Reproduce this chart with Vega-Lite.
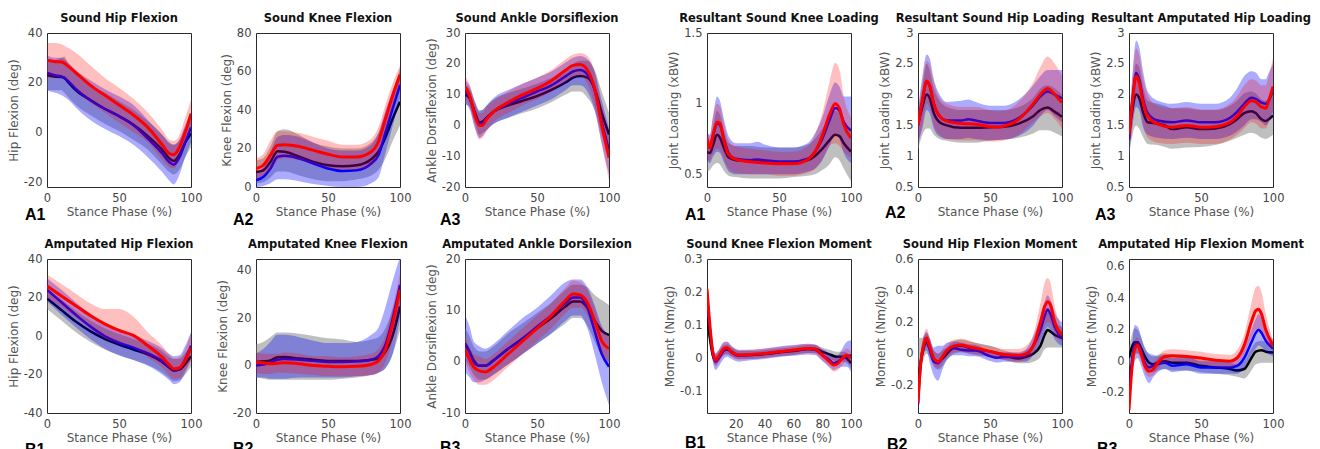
{
"$schema": "https://vega.github.io/schema/vega-lite/v6.json",
"background": "white",
"padding": {"left": 6, "top": 12, "right": 5, "bottom": 5},
"config": {
 "view": {"stroke": "#2b2b2b", "strokeWidth": 1},
 "axis": {"grid": false, "domain": false, "ticks": false, "labelOverlap": false, "labelFlush": false, "labelFont": "DejaVu Sans", "labelFontSize": 11.5, "labelColor": "#444444", "labelPadding": 5, "titleFont": "DejaVu Sans", "titleFontSize": 12, "titleFontWeight": "normal", "titleColor": "#555555", "titlePadding": 3},
 "text": {"font": "Liberation Sans", "fontSize": 16, "fontWeight": "bold", "color": "#000000", "align": "left", "baseline": "alphabetic"},
 "title": {"font": "DejaVu Sans", "fontSize": 11.5, "fontWeight": "bold", "color": "#111111", "offset": 3, "frame": "group"}
},
"datasets": {
"p1": [
{"s":"k","x":0,"y":23,"lo":17,"hi":29},{"s":"k","x":5,"y":22.5,"lo":17,"hi":29},{"s":"k","x":10,"y":22.3,"lo":17,"hi":30},{"s":"k","x":12,"y":22,"lo":16,"hi":30.5},{"s":"k","x":15,"y":20,"lo":14,"hi":27},{"s":"k","x":20,"y":17,"lo":11,"hi":24},{"s":"k","x":30,"y":13,"lo":7,"hi":19},{"s":"k","x":40,"y":9.5,"lo":3.5,"hi":16},{"s":"k","x":50,"y":6.5,"lo":0.5,"hi":12.5},{"s":"k","x":60,"y":3,"lo":-3,"hi":9},{"s":"k","x":70,"y":-1.5,"lo":-7,"hi":4.5},{"s":"k","x":80,"y":-7,"lo":-13,"hi":-1},{"s":"k","x":85,"y":-10.5,"lo":-16,"hi":-4.5},{"s":"k","x":88,"y":-11.5,"lo":-17,"hi":-5},{"s":"k","x":92,"y":-9,"lo":-15,"hi":-3},{"s":"k","x":96,"y":-4,"lo":-10,"hi":2},{"s":"k","x":100,"y":-0.5,"lo":-6,"hi":5},
{"s":"b","x":0,"y":24,"lo":17,"hi":31},{"s":"b","x":5,"y":23,"lo":16,"hi":30},{"s":"b","x":10,"y":22.5,"lo":15,"hi":30},{"s":"b","x":15,"y":20.5,"lo":13,"hi":28},{"s":"b","x":20,"y":17.5,"lo":10,"hi":25},{"s":"b","x":30,"y":13,"lo":5,"hi":21},{"s":"b","x":40,"y":9.5,"lo":1.5,"hi":17.5},{"s":"b","x":50,"y":6.5,"lo":-1.5,"hi":14.5},{"s":"b","x":60,"y":3,"lo":-5,"hi":11},{"s":"b","x":70,"y":-2.5,"lo":-10,"hi":5},{"s":"b","x":80,"y":-8.5,"lo":-16,"hi":-1},{"s":"b","x":85,"y":-12,"lo":-19.5,"hi":-4},{"s":"b","x":88,"y":-13,"lo":-21,"hi":-5},{"s":"b","x":92,"y":-10,"lo":-17,"hi":-3},{"s":"b","x":96,"y":-4,"lo":-10,"hi":3},{"s":"b","x":100,"y":2,"lo":-4,"hi":8},
{"s":"r","x":0,"y":29,"lo":22,"hi":36},{"s":"r","x":5,"y":28.5,"lo":22,"hi":36},{"s":"r","x":10,"y":28.3,"lo":22,"hi":35.5},{"s":"r","x":15,"y":26.5,"lo":20,"hi":34},{"s":"r","x":20,"y":24,"lo":17,"hi":32},{"s":"r","x":30,"y":19,"lo":12,"hi":27},{"s":"r","x":40,"y":15,"lo":8,"hi":22},{"s":"r","x":50,"y":11,"lo":4,"hi":18},{"s":"r","x":60,"y":7,"lo":0,"hi":13.5},{"s":"r","x":70,"y":2,"lo":-4,"hi":8},{"s":"r","x":80,"y":-5,"lo":-11,"hi":1},{"s":"r","x":85,"y":-8.5,"lo":-14,"hi":-3},{"s":"r","x":88,"y":-9,"lo":-14.5,"hi":-3.5},{"s":"r","x":92,"y":-6,"lo":-11,"hi":-1},{"s":"r","x":96,"y":0,"lo":-5,"hi":6},{"s":"r","x":100,"y":7.5,"lo":2,"hi":13}
],
"p2": [
{"s":"k","x":0,"y":7.8,"lo":2,"hi":14},{"s":"k","x":5,"y":8.7,"lo":2.5,"hi":15},{"s":"k","x":10,"y":13,"lo":5,"hi":21},{"s":"k","x":15,"y":18.6,"lo":8,"hi":29},{"s":"k","x":20,"y":18.3,"lo":8,"hi":30},{"s":"k","x":30,"y":15.7,"lo":6,"hi":27},{"s":"k","x":40,"y":13,"lo":4,"hi":23},{"s":"k","x":50,"y":11.3,"lo":3,"hi":21},{"s":"k","x":60,"y":10.8,"lo":3,"hi":20},{"s":"k","x":70,"y":11.3,"lo":4,"hi":20},{"s":"k","x":80,"y":14.4,"lo":6,"hi":23},{"s":"k","x":85,"y":18.3,"lo":9,"hi":28},{"s":"k","x":90,"y":26,"lo":15,"hi":38},{"s":"k","x":95,"y":35.7,"lo":24,"hi":49},{"s":"k","x":100,"y":44.3,"lo":32,"hi":62},
{"s":"b","x":0,"y":3.5,"lo":0,"hi":8},{"s":"b","x":5,"y":5.2,"lo":0.5,"hi":10},{"s":"b","x":10,"y":9.6,"lo":2,"hi":18},{"s":"b","x":15,"y":15.7,"lo":4,"hi":26},{"s":"b","x":20,"y":16.2,"lo":4,"hi":27},{"s":"b","x":30,"y":14.8,"lo":3,"hi":26},{"s":"b","x":40,"y":12.2,"lo":1.5,"hi":23},{"s":"b","x":50,"y":9.6,"lo":0.5,"hi":20},{"s":"b","x":60,"y":8.3,"lo":0,"hi":19},{"s":"b","x":70,"y":8.7,"lo":0,"hi":19},{"s":"b","x":80,"y":12.2,"lo":2,"hi":22},{"s":"b","x":85,"y":16.5,"lo":5,"hi":28},{"s":"b","x":90,"y":28.7,"lo":18,"hi":40},{"s":"b","x":95,"y":41,"lo":32,"hi":50},{"s":"b","x":100,"y":53,"lo":46,"hi":60},
{"s":"r","x":0,"y":9.6,"lo":4,"hi":15},{"s":"r","x":5,"y":11.3,"lo":6,"hi":17},{"s":"r","x":10,"y":16.5,"lo":9,"hi":24},{"s":"r","x":15,"y":21.7,"lo":14,"hi":29},{"s":"r","x":20,"y":22,"lo":15,"hi":29},{"s":"r","x":30,"y":21,"lo":14,"hi":28},{"s":"r","x":40,"y":19,"lo":12,"hi":26},{"s":"r","x":50,"y":17,"lo":10,"hi":24},{"s":"r","x":60,"y":15.6,"lo":9,"hi":22},{"s":"r","x":70,"y":15.6,"lo":9,"hi":22},{"s":"r","x":80,"y":18.3,"lo":11,"hi":25},{"s":"r","x":85,"y":23.5,"lo":16,"hi":31},{"s":"r","x":90,"y":35.7,"lo":28,"hi":43},{"s":"r","x":95,"y":47.8,"lo":41,"hi":54},{"s":"r","x":100,"y":58.3,"lo":53,"hi":63}
],
"p3": [
{"s":"k","x":0,"y":10,"lo":7,"hi":13},{"s":"k","x":3,"y":9,"lo":6,"hi":12},{"s":"k","x":7,"y":4,"lo":0.5,"hi":7.5},{"s":"k","x":10,"y":1,"lo":-3,"hi":5},{"s":"k","x":12,"y":1.2,"lo":-2.5,"hi":5},{"s":"k","x":15,"y":2.5,"lo":-1.5,"hi":6.5},{"s":"k","x":20,"y":4.5,"lo":0.5,"hi":8.5},{"s":"k","x":30,"y":6.5,"lo":2.5,"hi":10.5},{"s":"k","x":40,"y":8,"lo":4,"hi":12},{"s":"k","x":50,"y":9.5,"lo":5.5,"hi":13.5},{"s":"k","x":60,"y":11.5,"lo":7.5,"hi":15.5},{"s":"k","x":70,"y":14,"lo":10,"hi":18},{"s":"k","x":75,"y":15.5,"lo":11,"hi":20},{"s":"k","x":80,"y":16,"lo":11,"hi":21},{"s":"k","x":85,"y":15.5,"lo":9,"hi":21},{"s":"k","x":90,"y":12,"lo":5,"hi":18},{"s":"k","x":95,"y":4,"lo":-3,"hi":11},{"s":"k","x":100,"y":-3,"lo":-9,"hi":4},
{"s":"b","x":0,"y":11,"lo":7,"hi":14.5},{"s":"b","x":3,"y":9.5,"lo":5.5,"hi":13},{"s":"b","x":7,"y":3.5,"lo":-1,"hi":7.5},{"s":"b","x":10,"y":0.5,"lo":-4,"hi":4.5},{"s":"b","x":12,"y":0.8,"lo":-3.5,"hi":5},{"s":"b","x":15,"y":2.3,"lo":-1.5,"hi":6.5},{"s":"b","x":20,"y":4.5,"lo":0.5,"hi":9},{"s":"b","x":30,"y":7,"lo":2.5,"hi":11.5},{"s":"b","x":40,"y":9,"lo":4.5,"hi":13.5},{"s":"b","x":50,"y":11,"lo":6.5,"hi":15.5},{"s":"b","x":60,"y":13,"lo":8.5,"hi":17.5},{"s":"b","x":70,"y":16,"lo":11.5,"hi":20.5},{"s":"b","x":75,"y":17.5,"lo":13,"hi":22},{"s":"b","x":80,"y":18,"lo":13,"hi":22.5},{"s":"b","x":85,"y":16.5,"lo":11,"hi":21.5},{"s":"b","x":90,"y":11.5,"lo":5,"hi":17.5},{"s":"b","x":95,"y":1,"lo":-6,"hi":8},{"s":"b","x":100,"y":-8,"lo":-16,"hi":-1},
{"s":"r","x":0,"y":12.5,"lo":9,"hi":16},{"s":"r","x":3,"y":10,"lo":6.5,"hi":13.5},{"s":"r","x":7,"y":3,"lo":-1,"hi":7},{"s":"r","x":10,"y":0,"lo":-4.5,"hi":4},{"s":"r","x":12,"y":0,"lo":-4,"hi":4},{"s":"r","x":15,"y":2,"lo":-2,"hi":6},{"s":"r","x":20,"y":4.5,"lo":1,"hi":8},{"s":"r","x":30,"y":7.5,"lo":4,"hi":11},{"s":"r","x":40,"y":10,"lo":6.5,"hi":13.5},{"s":"r","x":50,"y":12,"lo":8.5,"hi":15.5},{"s":"r","x":60,"y":14.5,"lo":11,"hi":18},{"s":"r","x":70,"y":18,"lo":14,"hi":21.5},{"s":"r","x":75,"y":19.5,"lo":15.5,"hi":23},{"s":"r","x":80,"y":19.8,"lo":16,"hi":23.5},{"s":"r","x":85,"y":18,"lo":13.5,"hi":22.5},{"s":"r","x":90,"y":12,"lo":6.5,"hi":17.5},{"s":"r","x":95,"y":0,"lo":-6,"hi":6},{"s":"r","x":100,"y":-10.5,"lo":-18,"hi":-3}
],
"p4": [
{"s":"k","x":0,"y":0.66,"lo":0.52,"hi":0.75},{"s":"k","x":2,"y":0.65,"lo":0.53,"hi":0.74},{"s":"k","x":4,"y":0.7,"lo":0.56,"hi":0.82},{"s":"k","x":7,"y":0.78,"lo":0.58,"hi":0.95},{"s":"k","x":9,"y":0.76,"lo":0.57,"hi":0.92},{"s":"k","x":12,"y":0.68,"lo":0.52,"hi":0.8},{"s":"k","x":15,"y":0.62,"lo":0.49,"hi":0.72},{"s":"k","x":20,"y":0.6,"lo":0.48,"hi":0.7},{"s":"k","x":30,"y":0.595,"lo":0.47,"hi":0.7},{"s":"k","x":40,"y":0.59,"lo":0.47,"hi":0.69},{"s":"k","x":50,"y":0.585,"lo":0.47,"hi":0.69},{"s":"k","x":60,"y":0.585,"lo":0.48,"hi":0.69},{"s":"k","x":70,"y":0.6,"lo":0.49,"hi":0.71},{"s":"k","x":75,"y":0.63,"lo":0.5,"hi":0.75},{"s":"k","x":80,"y":0.68,"lo":0.53,"hi":0.82},{"s":"k","x":85,"y":0.74,"lo":0.57,"hi":0.9},{"s":"k","x":89,"y":0.78,"lo":0.62,"hi":0.95},{"s":"k","x":92,"y":0.77,"lo":0.6,"hi":0.93},{"s":"k","x":95,"y":0.72,"lo":0.54,"hi":0.87},{"s":"k","x":100,"y":0.66,"lo":0.45,"hi":0.82},
{"s":"b","x":0,"y":0.74,"lo":0.6,"hi":0.8},{"s":"b","x":2,"y":0.69,"lo":0.58,"hi":0.78},{"s":"b","x":4,"y":0.76,"lo":0.62,"hi":0.9},{"s":"b","x":7,"y":0.86,"lo":0.66,"hi":1.05},{"s":"b","x":9,"y":0.85,"lo":0.65,"hi":1.02},{"s":"b","x":12,"y":0.74,"lo":0.58,"hi":0.88},{"s":"b","x":15,"y":0.65,"lo":0.52,"hi":0.77},{"s":"b","x":20,"y":0.61,"lo":0.5,"hi":0.72},{"s":"b","x":30,"y":0.6,"lo":0.5,"hi":0.72},{"s":"b","x":35,"y":0.605,"lo":0.5,"hi":0.73},{"s":"b","x":40,"y":0.6,"lo":0.5,"hi":0.71},{"s":"b","x":50,"y":0.59,"lo":0.5,"hi":0.69},{"s":"b","x":60,"y":0.59,"lo":0.5,"hi":0.69},{"s":"b","x":70,"y":0.61,"lo":0.52,"hi":0.72},{"s":"b","x":75,"y":0.66,"lo":0.54,"hi":0.79},{"s":"b","x":80,"y":0.75,"lo":0.6,"hi":0.9},{"s":"b","x":85,"y":0.88,"lo":0.7,"hi":1.06},{"s":"b","x":89,"y":0.97,"lo":0.78,"hi":1.15},{"s":"b","x":92,"y":0.95,"lo":0.75,"hi":1.12},{"s":"b","x":95,"y":0.87,"lo":0.65,"hi":1.05},{"s":"b","x":100,"y":0.81,"lo":0.58,"hi":1.05},
{"s":"r","x":0,"y":0.756,"lo":0.6,"hi":0.8},{"s":"r","x":2,"y":0.686,"lo":0.6,"hi":0.77},{"s":"r","x":4,"y":0.77,"lo":0.64,"hi":0.9},{"s":"r","x":7,"y":0.87,"lo":0.68,"hi":1.0},{"s":"r","x":9,"y":0.86,"lo":0.67,"hi":0.98},{"s":"r","x":12,"y":0.73,"lo":0.6,"hi":0.85},{"s":"r","x":15,"y":0.64,"lo":0.54,"hi":0.74},{"s":"r","x":20,"y":0.605,"lo":0.51,"hi":0.7},{"s":"r","x":30,"y":0.588,"lo":0.5,"hi":0.68},{"s":"r","x":40,"y":0.58,"lo":0.5,"hi":0.67},{"s":"r","x":50,"y":0.574,"lo":0.49,"hi":0.66},{"s":"r","x":60,"y":0.574,"lo":0.49,"hi":0.66},{"s":"r","x":70,"y":0.605,"lo":0.51,"hi":0.7},{"s":"r","x":75,"y":0.66,"lo":0.54,"hi":0.78},{"s":"r","x":80,"y":0.77,"lo":0.6,"hi":0.93},{"s":"r","x":85,"y":0.92,"lo":0.7,"hi":1.15},{"s":"r","x":89,"y":1.0,"lo":0.72,"hi":1.29},{"s":"r","x":92,"y":0.965,"lo":0.7,"hi":1.24},{"s":"r","x":95,"y":0.85,"lo":0.66,"hi":1.05},{"s":"r","x":100,"y":0.756,"lo":0.62,"hi":0.9}
],
"p5": [
{"s":"k","x":0,"y":1.5,"lo":1.1,"hi":1.7},{"s":"k","x":3,"y":1.8,"lo":1.35,"hi":2.1},{"s":"k","x":6,"y":2.0,"lo":1.45,"hi":2.5},{"s":"k","x":8,"y":1.95,"lo":1.45,"hi":2.4},{"s":"k","x":11,"y":1.7,"lo":1.35,"hi":2.1},{"s":"k","x":15,"y":1.55,"lo":1.28,"hi":1.9},{"s":"k","x":20,"y":1.5,"lo":1.25,"hi":1.8},{"s":"k","x":30,"y":1.46,"lo":1.22,"hi":1.75},{"s":"k","x":40,"y":1.46,"lo":1.22,"hi":1.75},{"s":"k","x":50,"y":1.47,"lo":1.25,"hi":1.75},{"s":"k","x":60,"y":1.48,"lo":1.27,"hi":1.75},{"s":"k","x":70,"y":1.53,"lo":1.3,"hi":1.8},{"s":"k","x":80,"y":1.65,"lo":1.37,"hi":1.95},{"s":"k","x":85,"y":1.75,"lo":1.42,"hi":2.1},{"s":"k","x":90,"y":1.79,"lo":1.42,"hi":2.15},{"s":"k","x":95,"y":1.72,"lo":1.38,"hi":2.1},{"s":"k","x":100,"y":1.64,"lo":1.32,"hi":2.0},
{"s":"b","x":0,"y":1.5,"lo":1.2,"hi":1.75},{"s":"b","x":3,"y":1.9,"lo":1.45,"hi":2.3},{"s":"b","x":6,"y":2.2,"lo":1.75,"hi":2.65},{"s":"b","x":8,"y":2.15,"lo":1.7,"hi":2.6},{"s":"b","x":11,"y":1.85,"lo":1.45,"hi":2.25},{"s":"b","x":15,"y":1.65,"lo":1.32,"hi":2.0},{"s":"b","x":20,"y":1.58,"lo":1.28,"hi":1.88},{"s":"b","x":30,"y":1.58,"lo":1.28,"hi":1.9},{"s":"b","x":35,"y":1.6,"lo":1.3,"hi":1.92},{"s":"b","x":40,"y":1.58,"lo":1.28,"hi":1.88},{"s":"b","x":50,"y":1.54,"lo":1.26,"hi":1.82},{"s":"b","x":60,"y":1.54,"lo":1.27,"hi":1.82},{"s":"b","x":70,"y":1.62,"lo":1.33,"hi":1.92},{"s":"b","x":80,"y":1.83,"lo":1.5,"hi":2.15},{"s":"b","x":85,"y":1.97,"lo":1.65,"hi":2.3},{"s":"b","x":90,"y":2.05,"lo":1.75,"hi":2.4},{"s":"b","x":95,"y":2.0,"lo":1.65,"hi":2.4},{"s":"b","x":100,"y":1.94,"lo":1.55,"hi":2.4},
{"s":"r","x":0,"y":1.5,"lo":1.25,"hi":1.7},{"s":"r","x":3,"y":1.9,"lo":1.5,"hi":2.2},{"s":"r","x":6,"y":2.22,"lo":1.85,"hi":2.55},{"s":"r","x":8,"y":2.15,"lo":1.8,"hi":2.5},{"s":"r","x":11,"y":1.85,"lo":1.5,"hi":2.2},{"s":"r","x":15,"y":1.65,"lo":1.35,"hi":1.95},{"s":"r","x":20,"y":1.57,"lo":1.28,"hi":1.85},{"s":"r","x":30,"y":1.53,"lo":1.26,"hi":1.8},{"s":"r","x":40,"y":1.52,"lo":1.26,"hi":1.8},{"s":"r","x":50,"y":1.48,"lo":1.24,"hi":1.75},{"s":"r","x":55,"y":1.47,"lo":1.24,"hi":1.73},{"s":"r","x":60,"y":1.49,"lo":1.26,"hi":1.74},{"s":"r","x":70,"y":1.6,"lo":1.35,"hi":1.88},{"s":"r","x":80,"y":1.85,"lo":1.55,"hi":2.2},{"s":"r","x":85,"y":2.0,"lo":1.65,"hi":2.45},{"s":"r","x":90,"y":2.1,"lo":1.7,"hi":2.62},{"s":"r","x":95,"y":2.0,"lo":1.6,"hi":2.5},{"s":"r","x":100,"y":1.87,"lo":1.45,"hi":2.3}
],
"p6": [
{"s":"k","x":0,"y":1.35,"lo":1.0,"hi":1.6},{"s":"k","x":2,"y":1.7,"lo":1.3,"hi":2.0},{"s":"k","x":5,"y":2.0,"lo":1.5,"hi":2.5},{"s":"k","x":7,"y":1.95,"lo":1.45,"hi":2.45},{"s":"k","x":10,"y":1.7,"lo":1.3,"hi":2.1},{"s":"k","x":13,"y":1.55,"lo":1.2,"hi":1.9},{"s":"k","x":20,"y":1.53,"lo":1.18,"hi":1.85},{"s":"k","x":25,"y":1.5,"lo":1.15,"hi":1.82},{"s":"k","x":30,"y":1.44,"lo":1.12,"hi":1.78},{"s":"k","x":40,"y":1.47,"lo":1.14,"hi":1.78},{"s":"k","x":50,"y":1.44,"lo":1.15,"hi":1.75},{"s":"k","x":60,"y":1.45,"lo":1.18,"hi":1.75},{"s":"k","x":70,"y":1.52,"lo":1.25,"hi":1.82},{"s":"k","x":75,"y":1.6,"lo":1.3,"hi":1.9},{"s":"k","x":80,"y":1.7,"lo":1.35,"hi":2.02},{"s":"k","x":85,"y":1.73,"lo":1.38,"hi":2.05},{"s":"k","x":88,"y":1.7,"lo":1.36,"hi":2.02},{"s":"k","x":92,"y":1.6,"lo":1.3,"hi":1.92},{"s":"k","x":95,"y":1.57,"lo":1.28,"hi":1.9},{"s":"k","x":97,"y":1.6,"lo":1.3,"hi":1.95},{"s":"k","x":100,"y":1.66,"lo":1.35,"hi":2.0},
{"s":"b","x":0,"y":1.27,"lo":1.0,"hi":1.55},{"s":"b","x":2,"y":1.8,"lo":1.4,"hi":2.2},{"s":"b","x":5,"y":2.35,"lo":1.8,"hi":2.88},{"s":"b","x":7,"y":2.25,"lo":1.75,"hi":2.78},{"s":"b","x":10,"y":1.9,"lo":1.45,"hi":2.35},{"s":"b","x":13,"y":1.7,"lo":1.35,"hi":2.05},{"s":"b","x":20,"y":1.58,"lo":1.3,"hi":1.9},{"s":"b","x":30,"y":1.55,"lo":1.28,"hi":1.85},{"s":"b","x":40,"y":1.58,"lo":1.3,"hi":1.88},{"s":"b","x":50,"y":1.55,"lo":1.28,"hi":1.85},{"s":"b","x":60,"y":1.55,"lo":1.28,"hi":1.85},{"s":"b","x":70,"y":1.62,"lo":1.33,"hi":1.95},{"s":"b","x":75,"y":1.72,"lo":1.4,"hi":2.1},{"s":"b","x":80,"y":1.85,"lo":1.5,"hi":2.3},{"s":"b","x":85,"y":1.95,"lo":1.6,"hi":2.38},{"s":"b","x":88,"y":1.93,"lo":1.6,"hi":2.36},{"s":"b","x":92,"y":1.87,"lo":1.55,"hi":2.25},{"s":"b","x":95,"y":1.85,"lo":1.5,"hi":2.25},{"s":"b","x":97,"y":1.9,"lo":1.55,"hi":2.35},{"s":"b","x":100,"y":2.07,"lo":1.7,"hi":2.5},
{"s":"r","x":0,"y":1.35,"lo":1.1,"hi":1.6},{"s":"r","x":2,"y":1.8,"lo":1.45,"hi":2.15},{"s":"r","x":5,"y":2.3,"lo":1.95,"hi":2.75},{"s":"r","x":7,"y":2.2,"lo":1.85,"hi":2.65},{"s":"r","x":10,"y":1.85,"lo":1.5,"hi":2.25},{"s":"r","x":13,"y":1.65,"lo":1.3,"hi":2.0},{"s":"r","x":20,"y":1.52,"lo":1.22,"hi":1.82},{"s":"r","x":30,"y":1.47,"lo":1.2,"hi":1.78},{"s":"r","x":40,"y":1.5,"lo":1.22,"hi":1.8},{"s":"r","x":50,"y":1.47,"lo":1.2,"hi":1.76},{"s":"r","x":60,"y":1.48,"lo":1.2,"hi":1.76},{"s":"r","x":70,"y":1.55,"lo":1.27,"hi":1.85},{"s":"r","x":75,"y":1.65,"lo":1.35,"hi":1.97},{"s":"r","x":80,"y":1.8,"lo":1.45,"hi":2.15},{"s":"r","x":85,"y":1.9,"lo":1.55,"hi":2.25},{"s":"r","x":88,"y":1.88,"lo":1.53,"hi":2.23},{"s":"r","x":92,"y":1.8,"lo":1.45,"hi":2.15},{"s":"r","x":95,"y":1.78,"lo":1.45,"hi":2.15},{"s":"r","x":97,"y":1.9,"lo":1.55,"hi":2.3},{"s":"r","x":100,"y":2.13,"lo":1.75,"hi":2.6}
],
"p7": [
{"s":"k","x":0,"y":19.5,"lo":14,"hi":25},{"s":"k","x":10,"y":13.5,"lo":8,"hi":19},{"s":"k","x":20,"y":7.5,"lo":2,"hi":13},{"s":"k","x":30,"y":2.5,"lo":-3,"hi":8},{"s":"k","x":40,"y":-1.5,"lo":-7,"hi":4},{"s":"k","x":50,"y":-4.5,"lo":-10,"hi":1},{"s":"k","x":60,"y":-7,"lo":-12.5,"hi":-1.5},{"s":"k","x":70,"y":-9.5,"lo":-15,"hi":-4},{"s":"k","x":80,"y":-13.5,"lo":-19,"hi":-8},{"s":"k","x":85,"y":-16.5,"lo":-22,"hi":-11},{"s":"k","x":88,"y":-18,"lo":-23.5,"hi":-12},{"s":"k","x":92,"y":-17.5,"lo":-23,"hi":-12},{"s":"k","x":96,"y":-14.5,"lo":-20,"hi":-9},{"s":"k","x":100,"y":-10.5,"lo":-16,"hi":-5},
{"s":"b","x":0,"y":24,"lo":18,"hi":30},{"s":"b","x":10,"y":17.5,"lo":11,"hi":24},{"s":"b","x":20,"y":11,"lo":4.5,"hi":17.5},{"s":"b","x":30,"y":5,"lo":-1.5,"hi":11.5},{"s":"b","x":40,"y":0,"lo":-6.5,"hi":6.5},{"s":"b","x":50,"y":-3.5,"lo":-10,"hi":3},{"s":"b","x":60,"y":-6,"lo":-12.5,"hi":0.5},{"s":"b","x":70,"y":-9,"lo":-15.5,"hi":-2.5},{"s":"b","x":80,"y":-13,"lo":-20,"hi":-6.5},{"s":"b","x":85,"y":-16,"lo":-23,"hi":-9.5},{"s":"b","x":88,"y":-17.5,"lo":-25,"hi":-10.5},{"s":"b","x":92,"y":-17,"lo":-24,"hi":-10},{"s":"b","x":96,"y":-12,"lo":-19,"hi":-5},{"s":"b","x":100,"y":-5,"lo":-12,"hi":2},
{"s":"r","x":0,"y":26,"lo":20,"hi":32},{"s":"r","x":10,"y":20.8,"lo":15,"hi":27},{"s":"r","x":20,"y":15.7,"lo":9.5,"hi":22},{"s":"r","x":30,"y":10.6,"lo":4,"hi":17},{"s":"r","x":40,"y":6.3,"lo":-1,"hi":14},{"s":"r","x":50,"y":2.9,"lo":-4,"hi":14},{"s":"r","x":60,"y":0.3,"lo":-6,"hi":10},{"s":"r","x":70,"y":-5,"lo":-11,"hi":2},{"s":"r","x":80,"y":-11,"lo":-16.5,"hi":-5},{"s":"r","x":85,"y":-15,"lo":-20.5,"hi":-9.5},{"s":"r","x":88,"y":-17,"lo":-22.5,"hi":-11.5},{"s":"r","x":92,"y":-16.5,"lo":-22,"hi":-11},{"s":"r","x":96,"y":-12.5,"lo":-18,"hi":-7},{"s":"r","x":100,"y":-6,"lo":-13,"hi":2}
],
"p8": [
{"s":"k","x":0,"y":1.5,"lo":-5,"hi":9},{"s":"k","x":5,"y":1.8,"lo":-5.5,"hi":10},{"s":"k","x":10,"y":2.2,"lo":-6,"hi":12},{"s":"k","x":15,"y":3.5,"lo":-6,"hi":14},{"s":"k","x":20,"y":3.6,"lo":-6,"hi":14},{"s":"k","x":30,"y":3,"lo":-6,"hi":13.5},{"s":"k","x":40,"y":2.5,"lo":-6,"hi":12.5},{"s":"k","x":50,"y":2,"lo":-6,"hi":11.5},{"s":"k","x":60,"y":2,"lo":-5.5,"hi":11},{"s":"k","x":70,"y":2,"lo":-5,"hi":10},{"s":"k","x":80,"y":2.5,"lo":-4,"hi":11},{"s":"k","x":85,"y":3,"lo":-3,"hi":12},{"s":"k","x":90,"y":6,"lo":-1,"hi":16},{"s":"k","x":95,"y":13,"lo":5,"hi":24},{"s":"k","x":100,"y":25,"lo":15,"hi":35},
{"s":"b","x":0,"y":0,"lo":-5,"hi":5},{"s":"b","x":5,"y":0.5,"lo":-5,"hi":7},{"s":"b","x":10,"y":1.2,"lo":-5.5,"hi":10},{"s":"b","x":15,"y":2.5,"lo":-5.5,"hi":13},{"s":"b","x":20,"y":2.8,"lo":-5.5,"hi":13},{"s":"b","x":30,"y":2.5,"lo":-5,"hi":12},{"s":"b","x":40,"y":2,"lo":-5,"hi":10.5},{"s":"b","x":50,"y":1.5,"lo":-5,"hi":9.5},{"s":"b","x":60,"y":1.5,"lo":-5,"hi":9.5},{"s":"b","x":70,"y":1.8,"lo":-4.5,"hi":10},{"s":"b","x":80,"y":2.5,"lo":-4,"hi":13},{"s":"b","x":85,"y":4,"lo":-3,"hi":16},{"s":"b","x":90,"y":9,"lo":-1,"hi":25},{"s":"b","x":95,"y":20,"lo":5,"hi":36},{"s":"b","x":100,"y":34,"lo":20,"hi":46},
{"s":"r","x":0,"y":1.4,"lo":-3,"hi":5.5},{"s":"r","x":5,"y":1.2,"lo":-3.5,"hi":5},{"s":"r","x":10,"y":0.8,"lo":-3.5,"hi":5},{"s":"r","x":15,"y":1,"lo":-3,"hi":5},{"s":"r","x":20,"y":1.2,"lo":-3,"hi":5.5},{"s":"r","x":30,"y":0.8,"lo":-3.5,"hi":5},{"s":"r","x":40,"y":0,"lo":-4,"hi":4},{"s":"r","x":50,"y":-0.3,"lo":-4.5,"hi":4},{"s":"r","x":60,"y":-0.5,"lo":-4.5,"hi":3.5},{"s":"r","x":70,"y":-0.3,"lo":-4.5,"hi":4},{"s":"r","x":80,"y":0.5,"lo":-4,"hi":5},{"s":"r","x":85,"y":2,"lo":-3,"hi":7},{"s":"r","x":90,"y":7,"lo":1.5,"hi":13},{"s":"r","x":95,"y":18,"lo":11,"hi":25},{"s":"r","x":100,"y":32,"lo":25,"hi":39}
],
"p9": [
{"s":"k","x":0,"y":3.5,"lo":0.5,"hi":6.5},{"s":"k","x":3,"y":2,"lo":-1,"hi":5},{"s":"k","x":6,"y":0.3,"lo":-2.5,"hi":3},{"s":"k","x":10,"y":-0.8,"lo":-3.5,"hi":2},{"s":"k","x":14,"y":-0.8,"lo":-3.5,"hi":2},{"s":"k","x":20,"y":0.3,"lo":-2.5,"hi":3},{"s":"k","x":30,"y":2.5,"lo":-0.5,"hi":5.5},{"s":"k","x":40,"y":4.5,"lo":1.5,"hi":7.5},{"s":"k","x":50,"y":6.5,"lo":3.5,"hi":9.5},{"s":"k","x":60,"y":8.5,"lo":5.5,"hi":11.5},{"s":"k","x":70,"y":10.8,"lo":7.5,"hi":14},{"s":"k","x":75,"y":11.7,"lo":8.5,"hi":15},{"s":"k","x":80,"y":11.7,"lo":8.5,"hi":15},{"s":"k","x":85,"y":10.5,"lo":7,"hi":14.5},{"s":"k","x":90,"y":8,"lo":4,"hi":13},{"s":"k","x":95,"y":6,"lo":1,"hi":12},{"s":"k","x":100,"y":5.2,"lo":-1,"hi":11},
{"s":"b","x":0,"y":3.5,"lo":-2,"hi":9},{"s":"b","x":3,"y":2,"lo":-3,"hi":7},{"s":"b","x":6,"y":0,"lo":-4,"hi":4},{"s":"b","x":10,"y":-0.8,"lo":-4,"hi":3},{"s":"b","x":14,"y":-0.8,"lo":-3.5,"hi":2.5},{"s":"b","x":20,"y":0.3,"lo":-2.5,"hi":3.5},{"s":"b","x":30,"y":2.5,"lo":-0.5,"hi":6},{"s":"b","x":40,"y":4.5,"lo":1.5,"hi":8.5},{"s":"b","x":50,"y":6.8,"lo":3.5,"hi":10.5},{"s":"b","x":60,"y":9,"lo":5.5,"hi":13},{"s":"b","x":70,"y":11.5,"lo":8,"hi":15.5},{"s":"b","x":75,"y":12.5,"lo":9,"hi":16},{"s":"b","x":80,"y":12.5,"lo":9,"hi":16},{"s":"b","x":85,"y":10.5,"lo":6.5,"hi":14.5},{"s":"b","x":90,"y":6,"lo":1.5,"hi":11},{"s":"b","x":95,"y":1.5,"lo":-4,"hi":7},{"s":"b","x":100,"y":-1,"lo":-8.5,"hi":5},
{"s":"r","x":0,"y":2.5,"lo":0,"hi":5},{"s":"r","x":3,"y":0.5,"lo":-2,"hi":3},{"s":"r","x":6,"y":-1,"lo":-3.5,"hi":1.5},{"s":"r","x":10,"y":-1.8,"lo":-4.5,"hi":1},{"s":"r","x":14,"y":-2,"lo":-4.5,"hi":0.5},{"s":"r","x":20,"y":-1,"lo":-3.5,"hi":1.5},{"s":"r","x":30,"y":1.5,"lo":-1,"hi":4},{"s":"r","x":40,"y":4,"lo":1.5,"hi":6.5},{"s":"r","x":50,"y":6.5,"lo":4,"hi":9},{"s":"r","x":60,"y":9,"lo":6.5,"hi":11.5},{"s":"r","x":70,"y":12,"lo":9.5,"hi":14.5},{"s":"r","x":75,"y":13.2,"lo":10.5,"hi":15.8},{"s":"r","x":80,"y":13,"lo":10.5,"hi":15.5},{"s":"r","x":85,"y":11.5,"lo":9,"hi":14},{"s":"r","x":90,"y":8,"lo":5.5,"hi":10.5},{"s":"r","x":95,"y":4,"lo":1.5,"hi":6.5},{"s":"r","x":100,"y":2.5,"lo":0,"hi":5}
],
"p10": [
{"s":"k","x":0,"y":0.125,"lo":0.11,"hi":0.14},{"s":"k","x":2,"y":0.06,"lo":0.045,"hi":0.075},{"s":"k","x":4,"y":0.01,"lo":-0.005,"hi":0.025},{"s":"k","x":6,"y":-0.005,"lo":-0.02,"hi":0.01},{"s":"k","x":8,"y":0.005,"lo":-0.01,"hi":0.02},{"s":"k","x":12,"y":0.025,"lo":0.01,"hi":0.04},{"s":"k","x":14,"y":0.027,"lo":0.012,"hi":0.042},{"s":"k","x":17,"y":0.02,"lo":0.006,"hi":0.034},{"s":"k","x":22,"y":0.01,"lo":-0.002,"hi":0.022},{"s":"k","x":30,"y":0.01,"lo":-0.002,"hi":0.022},{"s":"k","x":40,"y":0.013,"lo":0.001,"hi":0.025},{"s":"k","x":50,"y":0.018,"lo":0.006,"hi":0.03},{"s":"k","x":60,"y":0.022,"lo":0.01,"hi":0.034},{"s":"k","x":70,"y":0.028,"lo":0.016,"hi":0.04},{"s":"k","x":75,"y":0.028,"lo":0.016,"hi":0.04},{"s":"k","x":80,"y":0.02,"lo":0.008,"hi":0.032},{"s":"k","x":85,"y":0.012,"lo":0.0,"hi":0.026},{"s":"k","x":90,"y":0.005,"lo":-0.01,"hi":0.02},{"s":"k","x":95,"y":0.005,"lo":-0.01,"hi":0.02},{"s":"k","x":100,"y":-0.015,"lo":-0.03,"hi":0.0},
{"s":"b","x":0,"y":0.2,"lo":0.185,"hi":0.215},{"s":"b","x":2,"y":0.09,"lo":0.07,"hi":0.11},{"s":"b","x":4,"y":0.015,"lo":-0.01,"hi":0.04},{"s":"b","x":6,"y":-0.01,"lo":-0.035,"hi":0.015},{"s":"b","x":8,"y":0.0,"lo":-0.025,"hi":0.025},{"s":"b","x":12,"y":0.025,"lo":0.0,"hi":0.05},{"s":"b","x":14,"y":0.03,"lo":0.005,"hi":0.05},{"s":"b","x":17,"y":0.018,"lo":-0.002,"hi":0.038},{"s":"b","x":22,"y":0.008,"lo":-0.01,"hi":0.026},{"s":"b","x":30,"y":0.01,"lo":-0.006,"hi":0.026},{"s":"b","x":40,"y":0.014,"lo":-0.002,"hi":0.03},{"s":"b","x":50,"y":0.02,"lo":0.004,"hi":0.036},{"s":"b","x":60,"y":0.024,"lo":0.008,"hi":0.04},{"s":"b","x":70,"y":0.028,"lo":0.012,"hi":0.044},{"s":"b","x":75,"y":0.026,"lo":0.01,"hi":0.042},{"s":"b","x":80,"y":0.01,"lo":-0.008,"hi":0.028},{"s":"b","x":85,"y":-0.005,"lo":-0.025,"hi":0.015},{"s":"b","x":88,"y":-0.015,"lo":-0.035,"hi":0.005},{"s":"b","x":91,"y":-0.01,"lo":-0.03,"hi":0.01},{"s":"b","x":94,"y":0.0,"lo":-0.025,"hi":0.03},{"s":"b","x":97,"y":0.005,"lo":-0.025,"hi":0.05},{"s":"b","x":100,"y":0.01,"lo":-0.04,"hi":0.055},
{"s":"r","x":0,"y":0.21,"lo":0.2,"hi":0.22},{"s":"r","x":2,"y":0.1,"lo":0.085,"hi":0.115},{"s":"r","x":4,"y":0.02,"lo":0.0,"hi":0.04},{"s":"r","x":6,"y":-0.005,"lo":-0.025,"hi":0.015},{"s":"r","x":8,"y":0.005,"lo":-0.015,"hi":0.025},{"s":"r","x":12,"y":0.03,"lo":0.012,"hi":0.048},{"s":"r","x":14,"y":0.032,"lo":0.014,"hi":0.05},{"s":"r","x":17,"y":0.02,"lo":0.004,"hi":0.036},{"s":"r","x":22,"y":0.01,"lo":-0.004,"hi":0.024},{"s":"r","x":30,"y":0.012,"lo":-0.002,"hi":0.026},{"s":"r","x":40,"y":0.015,"lo":0.001,"hi":0.029},{"s":"r","x":50,"y":0.02,"lo":0.006,"hi":0.034},{"s":"r","x":60,"y":0.025,"lo":0.011,"hi":0.039},{"s":"r","x":70,"y":0.03,"lo":0.016,"hi":0.044},{"s":"r","x":75,"y":0.028,"lo":0.014,"hi":0.042},{"s":"r","x":80,"y":0.01,"lo":-0.006,"hi":0.026},{"s":"r","x":85,"y":-0.01,"lo":-0.028,"hi":0.008},{"s":"r","x":88,"y":-0.02,"lo":-0.04,"hi":0.0},{"s":"r","x":91,"y":-0.015,"lo":-0.035,"hi":0.005},{"s":"r","x":94,"y":0.0,"lo":-0.02,"hi":0.02},{"s":"r","x":97,"y":0.01,"lo":-0.01,"hi":0.03},{"s":"r","x":100,"y":0.0,"lo":-0.02,"hi":0.02}
],
"p11": [
{"s":"k","x":0,"y":-0.15,"lo":-0.2,"hi":0.1},{"s":"k","x":2,"y":-0.05,"lo":-0.12,"hi":0.1},{"s":"k","x":4,"y":0.04,"lo":-0.03,"hi":0.11},{"s":"k","x":6,"y":0.07,"lo":0.0,"hi":0.13},{"s":"k","x":8,"y":0.04,"lo":-0.02,"hi":0.1},{"s":"k","x":11,"y":-0.03,"lo":-0.08,"hi":0.02},{"s":"k","x":14,"y":-0.05,"lo":-0.1,"hi":0.0},{"s":"k","x":17,"y":-0.03,"lo":-0.08,"hi":0.02},{"s":"k","x":20,"y":0.0,"lo":-0.04,"hi":0.04},{"s":"k","x":25,"y":0.04,"lo":0.0,"hi":0.08},{"s":"k","x":30,"y":0.05,"lo":0.01,"hi":0.09},{"s":"k","x":35,"y":0.04,"lo":0.0,"hi":0.08},{"s":"k","x":40,"y":0.03,"lo":-0.01,"hi":0.07},{"s":"k","x":50,"y":0.015,"lo":-0.02,"hi":0.05},{"s":"k","x":60,"y":-0.01,"lo":-0.04,"hi":0.02},{"s":"k","x":70,"y":-0.03,"lo":-0.06,"hi":0.0},{"s":"k","x":75,"y":-0.02,"lo":-0.06,"hi":0.02},{"s":"k","x":80,"y":0.0,"lo":-0.05,"hi":0.06},{"s":"k","x":85,"y":0.05,"lo":-0.02,"hi":0.14},{"s":"k","x":88,"y":0.12,"lo":0.03,"hi":0.23},{"s":"k","x":90,"y":0.15,"lo":0.04,"hi":0.26},{"s":"k","x":92,"y":0.14,"lo":0.04,"hi":0.25},{"s":"k","x":95,"y":0.12,"lo":0.04,"hi":0.2},{"s":"k","x":100,"y":0.1,"lo":0.04,"hi":0.17},
{"s":"b","x":0,"y":-0.32,"lo":-0.36,"hi":-0.28},{"s":"b","x":2,"y":-0.05,"lo":-0.1,"hi":0.0},{"s":"b","x":4,"y":0.05,"lo":0.0,"hi":0.11},{"s":"b","x":6,"y":0.08,"lo":0.02,"hi":0.14},{"s":"b","x":8,"y":0.03,"lo":-0.05,"hi":0.1},{"s":"b","x":11,"y":-0.05,"lo":-0.14,"hi":0.04},{"s":"b","x":14,"y":-0.06,"lo":-0.17,"hi":0.05},{"s":"b","x":17,"y":-0.02,"lo":-0.1,"hi":0.05},{"s":"b","x":20,"y":0.02,"lo":-0.04,"hi":0.07},{"s":"b","x":25,"y":0.035,"lo":-0.01,"hi":0.08},{"s":"b","x":30,"y":0.025,"lo":-0.01,"hi":0.07},{"s":"b","x":35,"y":0.02,"lo":-0.015,"hi":0.06},{"s":"b","x":40,"y":0.02,"lo":-0.015,"hi":0.055},{"s":"b","x":50,"y":-0.015,"lo":-0.045,"hi":0.02},{"s":"b","x":55,"y":-0.025,"lo":-0.055,"hi":0.01},{"s":"b","x":60,"y":-0.02,"lo":-0.05,"hi":0.01},{"s":"b","x":70,"y":-0.02,"lo":-0.05,"hi":0.01},{"s":"b","x":75,"y":-0.01,"lo":-0.05,"hi":0.03},{"s":"b","x":80,"y":0.05,"lo":-0.01,"hi":0.11},{"s":"b","x":85,"y":0.15,"lo":0.07,"hi":0.23},{"s":"b","x":88,"y":0.24,"lo":0.14,"hi":0.33},{"s":"b","x":90,"y":0.28,"lo":0.17,"hi":0.37},{"s":"b","x":92,"y":0.25,"lo":0.15,"hi":0.34},{"s":"b","x":95,"y":0.17,"lo":0.09,"hi":0.26},{"s":"b","x":100,"y":0.1,"lo":0.05,"hi":0.2},
{"s":"r","x":0,"y":-0.31,"lo":-0.36,"hi":-0.26},{"s":"r","x":2,"y":-0.05,"lo":-0.1,"hi":0.0},{"s":"r","x":4,"y":0.06,"lo":0.01,"hi":0.12},{"s":"r","x":6,"y":0.1,"lo":0.04,"hi":0.16},{"s":"r","x":8,"y":0.05,"lo":0.0,"hi":0.11},{"s":"r","x":11,"y":-0.03,"lo":-0.07,"hi":0.02},{"s":"r","x":14,"y":-0.05,"lo":-0.09,"hi":0.0},{"s":"r","x":17,"y":-0.02,"lo":-0.06,"hi":0.03},{"s":"r","x":20,"y":0.02,"lo":-0.02,"hi":0.06},{"s":"r","x":25,"y":0.05,"lo":0.01,"hi":0.09},{"s":"r","x":30,"y":0.055,"lo":0.015,"hi":0.095},{"s":"r","x":35,"y":0.045,"lo":0.005,"hi":0.085},{"s":"r","x":40,"y":0.035,"lo":0.0,"hi":0.07},{"s":"r","x":50,"y":0.015,"lo":-0.02,"hi":0.05},{"s":"r","x":60,"y":-0.005,"lo":-0.04,"hi":0.03},{"s":"r","x":70,"y":-0.01,"lo":-0.05,"hi":0.03},{"s":"r","x":75,"y":0.0,"lo":-0.04,"hi":0.05},{"s":"r","x":80,"y":0.05,"lo":0.0,"hi":0.12},{"s":"r","x":85,"y":0.2,"lo":0.1,"hi":0.32},{"s":"r","x":88,"y":0.3,"lo":0.18,"hi":0.45},{"s":"r","x":90,"y":0.33,"lo":0.2,"hi":0.48},{"s":"r","x":92,"y":0.31,"lo":0.19,"hi":0.45},{"s":"r","x":95,"y":0.2,"lo":0.12,"hi":0.3},{"s":"r","x":100,"y":0.12,"lo":0.08,"hi":0.16}
],
"p12": [
{"s":"k","x":0,"y":0.02,"lo":-0.04,"hi":0.08},{"s":"k","x":2,"y":0.09,"lo":0.02,"hi":0.17},{"s":"k","x":4,"y":0.12,"lo":0.05,"hi":0.21},{"s":"k","x":6,"y":0.12,"lo":0.05,"hi":0.2},{"s":"k","x":8,"y":0.09,"lo":0.03,"hi":0.16},{"s":"k","x":11,"y":0.03,"lo":-0.02,"hi":0.09},{"s":"k","x":14,"y":-0.01,"lo":-0.06,"hi":0.04},{"s":"k","x":17,"y":-0.02,"lo":-0.07,"hi":0.03},{"s":"k","x":20,"y":-0.01,"lo":-0.06,"hi":0.04},{"s":"k","x":25,"y":0.0,"lo":-0.05,"hi":0.05},{"s":"k","x":30,"y":-0.01,"lo":-0.06,"hi":0.04},{"s":"k","x":40,"y":-0.01,"lo":-0.06,"hi":0.04},{"s":"k","x":50,"y":-0.03,"lo":-0.07,"hi":0.01},{"s":"k","x":60,"y":-0.04,"lo":-0.08,"hi":0.0},{"s":"k","x":70,"y":-0.05,"lo":-0.09,"hi":-0.01},{"s":"k","x":75,"y":-0.06,"lo":-0.1,"hi":-0.02},{"s":"k","x":80,"y":-0.05,"lo":-0.11,"hi":0.0},{"s":"k","x":85,"y":0.02,"lo":-0.06,"hi":0.08},{"s":"k","x":88,"y":0.06,"lo":-0.02,"hi":0.12},{"s":"k","x":92,"y":0.07,"lo":-0.01,"hi":0.13},{"s":"k","x":95,"y":0.06,"lo":-0.01,"hi":0.12},{"s":"k","x":100,"y":0.055,"lo":-0.01,"hi":0.12},
{"s":"b","x":0,"y":-0.2,"lo":-0.25,"hi":-0.15},{"s":"b","x":2,"y":0.0,"lo":-0.06,"hi":0.08},{"s":"b","x":4,"y":0.1,"lo":0.0,"hi":0.23},{"s":"b","x":6,"y":0.11,"lo":0.02,"hi":0.22},{"s":"b","x":8,"y":0.07,"lo":-0.02,"hi":0.17},{"s":"b","x":11,"y":-0.01,"lo":-0.1,"hi":0.08},{"s":"b","x":14,"y":-0.04,"lo":-0.14,"hi":0.05},{"s":"b","x":17,"y":-0.03,"lo":-0.1,"hi":0.04},{"s":"b","x":20,"y":-0.02,"lo":-0.07,"hi":0.03},{"s":"b","x":25,"y":-0.01,"lo":-0.05,"hi":0.04},{"s":"b","x":30,"y":-0.03,"lo":-0.07,"hi":0.02},{"s":"b","x":40,"y":-0.02,"lo":-0.06,"hi":0.03},{"s":"b","x":50,"y":-0.04,"lo":-0.08,"hi":0.0},{"s":"b","x":60,"y":-0.04,"lo":-0.08,"hi":0.0},{"s":"b","x":70,"y":-0.04,"lo":-0.08,"hi":0.0},{"s":"b","x":75,"y":-0.03,"lo":-0.08,"hi":0.02},{"s":"b","x":80,"y":0.02,"lo":-0.04,"hi":0.08},{"s":"b","x":85,"y":0.12,"lo":0.04,"hi":0.2},{"s":"b","x":88,"y":0.18,"lo":0.08,"hi":0.27},{"s":"b","x":90,"y":0.2,"lo":0.1,"hi":0.3},{"s":"b","x":92,"y":0.18,"lo":0.09,"hi":0.28},{"s":"b","x":95,"y":0.13,"lo":0.06,"hi":0.2},{"s":"b","x":100,"y":0.08,"lo":0.03,"hi":0.14},
{"s":"r","x":0,"y":-0.31,"lo":-0.33,"hi":-0.29},{"s":"r","x":2,"y":-0.05,"lo":-0.09,"hi":0.0},{"s":"r","x":4,"y":0.08,"lo":0.03,"hi":0.13},{"s":"r","x":6,"y":0.1,"lo":0.05,"hi":0.15},{"s":"r","x":8,"y":0.06,"lo":0.01,"hi":0.11},{"s":"r","x":11,"y":-0.03,"lo":-0.07,"hi":0.02},{"s":"r","x":14,"y":-0.065,"lo":-0.1,"hi":-0.02},{"s":"r","x":17,"y":-0.05,"lo":-0.09,"hi":-0.01},{"s":"r","x":20,"y":-0.01,"lo":-0.05,"hi":0.03},{"s":"r","x":25,"y":0.03,"lo":-0.01,"hi":0.07},{"s":"r","x":30,"y":0.035,"lo":-0.005,"hi":0.075},{"s":"r","x":40,"y":0.03,"lo":-0.01,"hi":0.07},{"s":"r","x":50,"y":0.02,"lo":-0.02,"hi":0.06},{"s":"r","x":60,"y":0.005,"lo":-0.035,"hi":0.045},{"s":"r","x":70,"y":0.0,"lo":-0.04,"hi":0.04},{"s":"r","x":75,"y":0.02,"lo":-0.02,"hi":0.07},{"s":"r","x":80,"y":0.1,"lo":0.04,"hi":0.17},{"s":"r","x":85,"y":0.25,"lo":0.15,"hi":0.37},{"s":"r","x":88,"y":0.32,"lo":0.2,"hi":0.47},{"s":"r","x":90,"y":0.33,"lo":0.21,"hi":0.48},{"s":"r","x":92,"y":0.3,"lo":0.19,"hi":0.44},{"s":"r","x":95,"y":0.2,"lo":0.13,"hi":0.3},{"s":"r","x":100,"y":0.1,"lo":0.07,"hi":0.13}
]
},
"spacing": 30,
"hconcat": [
{"columns": 3, "spacing": {"row": 72, "column": 65}, "bounds": "flush", "concat": [
{"width":144,"height":154,"title":"Sound Hip Flexion","data":{"name":"p1"},"layer":[
{"transform":[{"filter":"datum.s=='k'"}],"mark":{"type":"area","color":"#808080","opacity":0.5,"interpolate":"monotone","clip":true},"encoding":{"x":{"field":"x","type":"quantitative","scale":{"domain":[0,100],"nice":false,"zero":false},"axis":{"values":[0,50,100],"tickCount":12,"labelOverlap":false,"title":"Stance Phase (%)"}},"y":{"field":"lo","type":"quantitative","scale":{"domain":[-22,40],"nice":false,"zero":false},"axis":{"values":[-20,0,20,40],"tickCount":12,"labelOverlap":false,"labelExpr":"'' + datum.value","title":"Hip Flexion (deg)"}},"y2":{"field":"hi"}}},
{"transform":[{"filter":"datum.s=='k'"}],"mark":{"type":"line","color":"#000000","strokeWidth":2.5,"interpolate":"monotone","clip":true},"encoding":{"x":{"field":"x","type":"quantitative"},"y":{"field":"y","type":"quantitative"}}},
{"transform":[{"filter":"datum.s=='b'"}],"mark":{"type":"area","color":"#0000ff","opacity":0.33,"interpolate":"monotone","clip":true},"encoding":{"x":{"field":"x","type":"quantitative"},"y":{"field":"lo","type":"quantitative"},"y2":{"field":"hi"}}},
{"transform":[{"filter":"datum.s=='b'"}],"mark":{"type":"line","color":"#0000ff","strokeWidth":2.5,"interpolate":"monotone","clip":true},"encoding":{"x":{"field":"x","type":"quantitative"},"y":{"field":"y","type":"quantitative"}}},
{"transform":[{"filter":"datum.s=='r'"}],"mark":{"type":"area","color":"#ff0000","opacity":0.25,"interpolate":"monotone","clip":true},"encoding":{"x":{"field":"x","type":"quantitative"},"y":{"field":"lo","type":"quantitative"},"y2":{"field":"hi"}}},
{"transform":[{"filter":"datum.s=='r'"}],"mark":{"type":"line","color":"#ff0000","strokeWidth":3,"interpolate":"monotone","clip":true},"encoding":{"x":{"field":"x","type":"quantitative"},"y":{"field":"y","type":"quantitative"}}},
{"data":{"values":[{"lab":"A1"}]},"mark":{"type":"text"},"encoding":{"text":{"field":"lab"},"x":{"datum":-15.3,"type":"quantitative"},"y":{"datum":-35.3,"type":"quantitative"}}}
]},
{"width":144,"height":154,"title":"Sound Knee Flexion","data":{"name":"p2"},"layer":[
{"transform":[{"filter":"datum.s=='k'"}],"mark":{"type":"area","color":"#808080","opacity":0.5,"interpolate":"monotone","clip":true},"encoding":{"x":{"field":"x","type":"quantitative","scale":{"domain":[0,100],"nice":false,"zero":false},"axis":{"values":[0,50,100],"tickCount":12,"labelOverlap":false,"title":"Stance Phase (%)"}},"y":{"field":"lo","type":"quantitative","scale":{"domain":[0,80],"nice":false,"zero":false},"axis":{"values":[0,20,40,60,80],"tickCount":12,"labelOverlap":false,"labelExpr":"'' + datum.value","title":"Knee Flexion (deg)"}},"y2":{"field":"hi"}}},
{"transform":[{"filter":"datum.s=='k'"}],"mark":{"type":"line","color":"#000000","strokeWidth":2.5,"interpolate":"monotone","clip":true},"encoding":{"x":{"field":"x","type":"quantitative"},"y":{"field":"y","type":"quantitative"}}},
{"transform":[{"filter":"datum.s=='b'"}],"mark":{"type":"area","color":"#0000ff","opacity":0.33,"interpolate":"monotone","clip":true},"encoding":{"x":{"field":"x","type":"quantitative"},"y":{"field":"lo","type":"quantitative"},"y2":{"field":"hi"}}},
{"transform":[{"filter":"datum.s=='b'"}],"mark":{"type":"line","color":"#0000ff","strokeWidth":2.5,"interpolate":"monotone","clip":true},"encoding":{"x":{"field":"x","type":"quantitative"},"y":{"field":"y","type":"quantitative"}}},
{"transform":[{"filter":"datum.s=='r'"}],"mark":{"type":"area","color":"#ff0000","opacity":0.25,"interpolate":"monotone","clip":true},"encoding":{"x":{"field":"x","type":"quantitative"},"y":{"field":"lo","type":"quantitative"},"y2":{"field":"hi"}}},
{"transform":[{"filter":"datum.s=='r'"}],"mark":{"type":"line","color":"#ff0000","strokeWidth":3,"interpolate":"monotone","clip":true},"encoding":{"x":{"field":"x","type":"quantitative"},"y":{"field":"y","type":"quantitative"}}},
{"data":{"values":[{"lab":"A2"}]},"mark":{"type":"text"},"encoding":{"text":{"field":"lab"},"x":{"datum":-16,"type":"quantitative"},"y":{"datum":-19.7,"type":"quantitative"}}}
]},
{"width":144,"height":154,"title":"Sound Ankle Dorsiflexion","data":{"name":"p3"},"layer":[
{"transform":[{"filter":"datum.s=='k'"}],"mark":{"type":"area","color":"#808080","opacity":0.5,"interpolate":"monotone","clip":true},"encoding":{"x":{"field":"x","type":"quantitative","scale":{"domain":[0,100],"nice":false,"zero":false},"axis":{"values":[0,50,100],"tickCount":12,"labelOverlap":false,"title":"Stance Phase (%)"}},"y":{"field":"lo","type":"quantitative","scale":{"domain":[-20,30],"nice":false,"zero":false},"axis":{"values":[-20,-10,0,10,20,30],"tickCount":12,"labelOverlap":false,"labelExpr":"'' + datum.value","title":"Ankle Dorsiflexion (deg)"}},"y2":{"field":"hi"}}},
{"transform":[{"filter":"datum.s=='k'"}],"mark":{"type":"line","color":"#000000","strokeWidth":2.5,"interpolate":"monotone","clip":true},"encoding":{"x":{"field":"x","type":"quantitative"},"y":{"field":"y","type":"quantitative"}}},
{"transform":[{"filter":"datum.s=='b'"}],"mark":{"type":"area","color":"#0000ff","opacity":0.33,"interpolate":"monotone","clip":true},"encoding":{"x":{"field":"x","type":"quantitative"},"y":{"field":"lo","type":"quantitative"},"y2":{"field":"hi"}}},
{"transform":[{"filter":"datum.s=='b'"}],"mark":{"type":"line","color":"#0000ff","strokeWidth":2.5,"interpolate":"monotone","clip":true},"encoding":{"x":{"field":"x","type":"quantitative"},"y":{"field":"y","type":"quantitative"}}},
{"transform":[{"filter":"datum.s=='r'"}],"mark":{"type":"area","color":"#ff0000","opacity":0.25,"interpolate":"monotone","clip":true},"encoding":{"x":{"field":"x","type":"quantitative"},"y":{"field":"lo","type":"quantitative"},"y2":{"field":"hi"}}},
{"transform":[{"filter":"datum.s=='r'"}],"mark":{"type":"line","color":"#ff0000","strokeWidth":3,"interpolate":"monotone","clip":true},"encoding":{"x":{"field":"x","type":"quantitative"},"y":{"field":"y","type":"quantitative"}}},
{"data":{"values":[{"lab":"A3"}]},"mark":{"type":"text"},"encoding":{"text":{"field":"lab"},"x":{"datum":-17.4,"type":"quantitative"},"y":{"datum":-32.3,"type":"quantitative"}}}
]},
{"width":144,"height":154,"title":"Amputated Hip Flexion","data":{"name":"p7"},"layer":[
{"transform":[{"filter":"datum.s=='k'"}],"mark":{"type":"area","color":"#808080","opacity":0.5,"interpolate":"monotone","clip":true},"encoding":{"x":{"field":"x","type":"quantitative","scale":{"domain":[0,100],"nice":false,"zero":false},"axis":{"values":[0,50,100],"tickCount":12,"labelOverlap":false,"title":"Stance Phase (%)"}},"y":{"field":"lo","type":"quantitative","scale":{"domain":[-40,40],"nice":false,"zero":false},"axis":{"values":[-40,-20,0,20,40],"tickCount":12,"labelOverlap":false,"labelExpr":"'' + datum.value","title":"Hip Flexion (deg)"}},"y2":{"field":"hi"}}},
{"transform":[{"filter":"datum.s=='k'"}],"mark":{"type":"line","color":"#000000","strokeWidth":2.5,"interpolate":"monotone","clip":true},"encoding":{"x":{"field":"x","type":"quantitative"},"y":{"field":"y","type":"quantitative"}}},
{"transform":[{"filter":"datum.s=='b'"}],"mark":{"type":"area","color":"#0000ff","opacity":0.33,"interpolate":"monotone","clip":true},"encoding":{"x":{"field":"x","type":"quantitative"},"y":{"field":"lo","type":"quantitative"},"y2":{"field":"hi"}}},
{"transform":[{"filter":"datum.s=='b'"}],"mark":{"type":"line","color":"#0000ff","strokeWidth":2.5,"interpolate":"monotone","clip":true},"encoding":{"x":{"field":"x","type":"quantitative"},"y":{"field":"y","type":"quantitative"}}},
{"transform":[{"filter":"datum.s=='r'"}],"mark":{"type":"area","color":"#ff0000","opacity":0.25,"interpolate":"monotone","clip":true},"encoding":{"x":{"field":"x","type":"quantitative"},"y":{"field":"lo","type":"quantitative"},"y2":{"field":"hi"}}},
{"transform":[{"filter":"datum.s=='r'"}],"mark":{"type":"line","color":"#ff0000","strokeWidth":3,"interpolate":"monotone","clip":true},"encoding":{"x":{"field":"x","type":"quantitative"},"y":{"field":"y","type":"quantitative"}}},
{"data":{"values":[{"lab":"B1"}]},"mark":{"type":"text"},"encoding":{"text":{"field":"lab"},"x":{"datum":-15.3,"type":"quantitative"},"y":{"datum":-61.8,"type":"quantitative"}}}
]},
{"width":144,"height":154,"title":{"text":"Amputated Knee Flexion","offset":9},"data":{"name":"p8"},"layer":[
{"transform":[{"filter":"datum.s=='k'"}],"mark":{"type":"area","color":"#808080","opacity":0.5,"interpolate":"monotone","clip":true},"encoding":{"x":{"field":"x","type":"quantitative","scale":{"domain":[0,100],"nice":false,"zero":false},"axis":{"values":[0,50,100],"tickCount":12,"labelOverlap":false,"title":"Stance Phase (%)"}},"y":{"field":"lo","type":"quantitative","scale":{"domain":[-20,45],"nice":false,"zero":false},"axis":{"values":[-20,0,20,40],"tickCount":12,"labelOverlap":false,"labelExpr":"'' + datum.value","title":"Knee Flexion (deg)"}},"y2":{"field":"hi"}}},
{"transform":[{"filter":"datum.s=='k'"}],"mark":{"type":"line","color":"#000000","strokeWidth":2.5,"interpolate":"monotone","clip":true},"encoding":{"x":{"field":"x","type":"quantitative"},"y":{"field":"y","type":"quantitative"}}},
{"transform":[{"filter":"datum.s=='b'"}],"mark":{"type":"area","color":"#0000ff","opacity":0.33,"interpolate":"monotone","clip":true},"encoding":{"x":{"field":"x","type":"quantitative"},"y":{"field":"lo","type":"quantitative"},"y2":{"field":"hi"}}},
{"transform":[{"filter":"datum.s=='b'"}],"mark":{"type":"line","color":"#0000ff","strokeWidth":2.5,"interpolate":"monotone","clip":true},"encoding":{"x":{"field":"x","type":"quantitative"},"y":{"field":"y","type":"quantitative"}}},
{"transform":[{"filter":"datum.s=='r'"}],"mark":{"type":"area","color":"#ff0000","opacity":0.25,"interpolate":"monotone","clip":true},"encoding":{"x":{"field":"x","type":"quantitative"},"y":{"field":"lo","type":"quantitative"},"y2":{"field":"hi"}}},
{"transform":[{"filter":"datum.s=='r'"}],"mark":{"type":"line","color":"#ff0000","strokeWidth":3,"interpolate":"monotone","clip":true},"encoding":{"x":{"field":"x","type":"quantitative"},"y":{"field":"y","type":"quantitative"}}},
{"data":{"values":[{"lab":"B2"}]},"mark":{"type":"text"},"encoding":{"text":{"field":"lab"},"x":{"datum":-16,"type":"quantitative"},"y":{"datum":-37.3,"type":"quantitative"}}}
]},
{"width":144,"height":154,"title":"Amputated Ankle Dorsilexion","data":{"name":"p9"},"layer":[
{"transform":[{"filter":"datum.s=='k'"}],"mark":{"type":"area","color":"#808080","opacity":0.5,"interpolate":"monotone","clip":true},"encoding":{"x":{"field":"x","type":"quantitative","scale":{"domain":[0,100],"nice":false,"zero":false},"axis":{"values":[0,50,100],"tickCount":12,"labelOverlap":false,"title":"Stance Phase (%)"}},"y":{"field":"lo","type":"quantitative","scale":{"domain":[-10,20],"nice":false,"zero":false},"axis":{"values":[-10,0,10,20],"tickCount":12,"labelOverlap":false,"labelExpr":"'' + datum.value","title":"Ankle Dorsiflexion (deg)"}},"y2":{"field":"hi"}}},
{"transform":[{"filter":"datum.s=='k'"}],"mark":{"type":"line","color":"#000000","strokeWidth":2.5,"interpolate":"monotone","clip":true},"encoding":{"x":{"field":"x","type":"quantitative"},"y":{"field":"y","type":"quantitative"}}},
{"transform":[{"filter":"datum.s=='b'"}],"mark":{"type":"area","color":"#0000ff","opacity":0.33,"interpolate":"monotone","clip":true},"encoding":{"x":{"field":"x","type":"quantitative"},"y":{"field":"lo","type":"quantitative"},"y2":{"field":"hi"}}},
{"transform":[{"filter":"datum.s=='b'"}],"mark":{"type":"line","color":"#0000ff","strokeWidth":2.5,"interpolate":"monotone","clip":true},"encoding":{"x":{"field":"x","type":"quantitative"},"y":{"field":"y","type":"quantitative"}}},
{"transform":[{"filter":"datum.s=='r'"}],"mark":{"type":"area","color":"#ff0000","opacity":0.25,"interpolate":"monotone","clip":true},"encoding":{"x":{"field":"x","type":"quantitative"},"y":{"field":"lo","type":"quantitative"},"y2":{"field":"hi"}}},
{"transform":[{"filter":"datum.s=='r'"}],"mark":{"type":"line","color":"#ff0000","strokeWidth":3,"interpolate":"monotone","clip":true},"encoding":{"x":{"field":"x","type":"quantitative"},"y":{"field":"y","type":"quantitative"}}},
{"data":{"values":[{"lab":"B3"}]},"mark":{"type":"text"},"encoding":{"text":{"field":"lab"},"x":{"datum":-17.4,"type":"quantitative"},"y":{"datum":-17.8,"type":"quantitative"}}}
]}
]},
{"columns": 3, "spacing": {"row": 72, "column": 67}, "bounds": "flush", "concat": [
{"width":144,"height":154,"title":"Resultant Sound Knee Loading","data":{"name":"p4"},"layer":[
{"transform":[{"filter":"datum.s=='k'"}],"mark":{"type":"area","color":"#808080","opacity":0.5,"interpolate":"monotone","clip":true},"encoding":{"x":{"field":"x","type":"quantitative","scale":{"domain":[0,100],"nice":false,"zero":false},"axis":{"values":[0,50,100],"tickCount":12,"labelOverlap":false,"title":"Stance Phase (%)"}},"y":{"field":"lo","type":"quantitative","scale":{"domain":[0.41,1.5],"nice":false,"zero":false},"axis":{"values":[0.5,1,1.5],"tickCount":12,"labelOverlap":false,"labelExpr":"'' + datum.value","title":"Joint Loading (xBW)"}},"y2":{"field":"hi"}}},
{"transform":[{"filter":"datum.s=='k'"}],"mark":{"type":"line","color":"#000000","strokeWidth":2.5,"interpolate":"monotone","clip":true},"encoding":{"x":{"field":"x","type":"quantitative"},"y":{"field":"y","type":"quantitative"}}},
{"transform":[{"filter":"datum.s=='b'"}],"mark":{"type":"area","color":"#0000ff","opacity":0.33,"interpolate":"monotone","clip":true},"encoding":{"x":{"field":"x","type":"quantitative"},"y":{"field":"lo","type":"quantitative"},"y2":{"field":"hi"}}},
{"transform":[{"filter":"datum.s=='b'"}],"mark":{"type":"line","color":"#0000ff","strokeWidth":2.5,"interpolate":"monotone","clip":true},"encoding":{"x":{"field":"x","type":"quantitative"},"y":{"field":"y","type":"quantitative"}}},
{"transform":[{"filter":"datum.s=='r'"}],"mark":{"type":"area","color":"#ff0000","opacity":0.25,"interpolate":"monotone","clip":true},"encoding":{"x":{"field":"x","type":"quantitative"},"y":{"field":"lo","type":"quantitative"},"y2":{"field":"hi"}}},
{"transform":[{"filter":"datum.s=='r'"}],"mark":{"type":"line","color":"#ff0000","strokeWidth":3,"interpolate":"monotone","clip":true},"encoding":{"x":{"field":"x","type":"quantitative"},"y":{"field":"y","type":"quantitative"}}},
{"data":{"values":[{"lab":"A1"}]},"mark":{"type":"text"},"encoding":{"text":{"field":"lab"},"x":{"datum":-15.3,"type":"quantitative"},"y":{"datum":0.176,"type":"quantitative"}}}
]},
{"width":144,"height":154,"title":"Resultant Sound Hip Loading","data":{"name":"p5"},"layer":[
{"transform":[{"filter":"datum.s=='k'"}],"mark":{"type":"area","color":"#808080","opacity":0.5,"interpolate":"monotone","clip":true},"encoding":{"x":{"field":"x","type":"quantitative","scale":{"domain":[0,100],"nice":false,"zero":false},"axis":{"values":[0,50,100],"tickCount":12,"labelOverlap":false,"title":"Stance Phase (%)"}},"y":{"field":"lo","type":"quantitative","scale":{"domain":[0.5,3],"nice":false,"zero":false},"axis":{"values":[0.5,1,1.5,2,2.5,3],"tickCount":12,"labelOverlap":false,"labelExpr":"'' + datum.value","title":"Joint Loading (xBW)"}},"y2":{"field":"hi"}}},
{"transform":[{"filter":"datum.s=='k'"}],"mark":{"type":"line","color":"#000000","strokeWidth":2.5,"interpolate":"monotone","clip":true},"encoding":{"x":{"field":"x","type":"quantitative"},"y":{"field":"y","type":"quantitative"}}},
{"transform":[{"filter":"datum.s=='b'"}],"mark":{"type":"area","color":"#0000ff","opacity":0.33,"interpolate":"monotone","clip":true},"encoding":{"x":{"field":"x","type":"quantitative"},"y":{"field":"lo","type":"quantitative"},"y2":{"field":"hi"}}},
{"transform":[{"filter":"datum.s=='b'"}],"mark":{"type":"line","color":"#0000ff","strokeWidth":2.5,"interpolate":"monotone","clip":true},"encoding":{"x":{"field":"x","type":"quantitative"},"y":{"field":"y","type":"quantitative"}}},
{"transform":[{"filter":"datum.s=='r'"}],"mark":{"type":"area","color":"#ff0000","opacity":0.25,"interpolate":"monotone","clip":true},"encoding":{"x":{"field":"x","type":"quantitative"},"y":{"field":"lo","type":"quantitative"},"y2":{"field":"hi"}}},
{"transform":[{"filter":"datum.s=='r'"}],"mark":{"type":"line","color":"#ff0000","strokeWidth":3,"interpolate":"monotone","clip":true},"encoding":{"x":{"field":"x","type":"quantitative"},"y":{"field":"y","type":"quantitative"}}},
{"data":{"values":[{"lab":"A2"}]},"mark":{"type":"text"},"encoding":{"text":{"field":"lab"},"x":{"datum":-22.9,"type":"quantitative"},"y":{"datum":-0.003,"type":"quantitative"}}}
]},
{"width":144,"height":154,"title":"Resultant Amputated Hip Loading","data":{"name":"p6"},"layer":[
{"transform":[{"filter":"datum.s=='k'"}],"mark":{"type":"area","color":"#808080","opacity":0.5,"interpolate":"monotone","clip":true},"encoding":{"x":{"field":"x","type":"quantitative","scale":{"domain":[0,100],"nice":false,"zero":false},"axis":{"values":[0,50,100],"tickCount":12,"labelOverlap":false,"title":"Stance Phase (%)"}},"y":{"field":"lo","type":"quantitative","scale":{"domain":[0.5,3],"nice":false,"zero":false},"axis":{"values":[0.5,1,1.5,2,2.5,3],"tickCount":12,"labelOverlap":false,"labelExpr":"'' + datum.value","title":"Joint Loading (xBW)"}},"y2":{"field":"hi"}}},
{"transform":[{"filter":"datum.s=='k'"}],"mark":{"type":"line","color":"#000000","strokeWidth":2.5,"interpolate":"monotone","clip":true},"encoding":{"x":{"field":"x","type":"quantitative"},"y":{"field":"y","type":"quantitative"}}},
{"transform":[{"filter":"datum.s=='b'"}],"mark":{"type":"area","color":"#0000ff","opacity":0.33,"interpolate":"monotone","clip":true},"encoding":{"x":{"field":"x","type":"quantitative"},"y":{"field":"lo","type":"quantitative"},"y2":{"field":"hi"}}},
{"transform":[{"filter":"datum.s=='b'"}],"mark":{"type":"line","color":"#0000ff","strokeWidth":2.5,"interpolate":"monotone","clip":true},"encoding":{"x":{"field":"x","type":"quantitative"},"y":{"field":"y","type":"quantitative"}}},
{"transform":[{"filter":"datum.s=='r'"}],"mark":{"type":"area","color":"#ff0000","opacity":0.25,"interpolate":"monotone","clip":true},"encoding":{"x":{"field":"x","type":"quantitative"},"y":{"field":"lo","type":"quantitative"},"y2":{"field":"hi"}}},
{"transform":[{"filter":"datum.s=='r'"}],"mark":{"type":"line","color":"#ff0000","strokeWidth":3,"interpolate":"monotone","clip":true},"encoding":{"x":{"field":"x","type":"quantitative"},"y":{"field":"y","type":"quantitative"}}},
{"data":{"values":[{"lab":"A3"}]},"mark":{"type":"text"},"encoding":{"text":{"field":"lab"},"x":{"datum":-23.6,"type":"quantitative"},"y":{"datum":-0.036,"type":"quantitative"}}}
]},
{"width":144,"height":154,"title":"Sound Knee Flexion Moment","data":{"name":"p10"},"layer":[
{"transform":[{"filter":"datum.s=='k'"}],"mark":{"type":"area","color":"#808080","opacity":0.5,"interpolate":"monotone","clip":true},"encoding":{"x":{"field":"x","type":"quantitative","scale":{"domain":[0,100],"nice":false,"zero":false},"axis":{"values":[20,40,60,80,100],"tickCount":12,"labelOverlap":false,"title":"Stance Phase (%)"}},"y":{"field":"lo","type":"quantitative","scale":{"domain":[-0.165,0.3],"nice":false,"zero":false},"axis":{"values":[-0.1,0,0.1,0.2,0.3],"tickCount":12,"labelOverlap":false,"labelExpr":"'' + datum.value","title":"Moment (Nm/kg)"}},"y2":{"field":"hi"}}},
{"transform":[{"filter":"datum.s=='k'"}],"mark":{"type":"line","color":"#000000","strokeWidth":2.5,"interpolate":"monotone","clip":true},"encoding":{"x":{"field":"x","type":"quantitative"},"y":{"field":"y","type":"quantitative"}}},
{"transform":[{"filter":"datum.s=='b'"}],"mark":{"type":"area","color":"#0000ff","opacity":0.33,"interpolate":"monotone","clip":true},"encoding":{"x":{"field":"x","type":"quantitative"},"y":{"field":"lo","type":"quantitative"},"y2":{"field":"hi"}}},
{"transform":[{"filter":"datum.s=='b'"}],"mark":{"type":"line","color":"#0000ff","strokeWidth":2.5,"interpolate":"monotone","clip":true},"encoding":{"x":{"field":"x","type":"quantitative"},"y":{"field":"y","type":"quantitative"}}},
{"transform":[{"filter":"datum.s=='r'"}],"mark":{"type":"area","color":"#ff0000","opacity":0.25,"interpolate":"monotone","clip":true},"encoding":{"x":{"field":"x","type":"quantitative"},"y":{"field":"lo","type":"quantitative"},"y2":{"field":"hi"}}},
{"transform":[{"filter":"datum.s=='r'"}],"mark":{"type":"line","color":"#ff0000","strokeWidth":3,"interpolate":"monotone","clip":true},"encoding":{"x":{"field":"x","type":"quantitative"},"y":{"field":"y","type":"quantitative"}}},
{"data":{"values":[{"lab":"B1"}]},"mark":{"type":"text"},"encoding":{"text":{"field":"lab"},"x":{"datum":-15.3,"type":"quantitative"},"y":{"datum":-0.2707,"type":"quantitative"}}}
]},
{"width":144,"height":154,"title":"Sound Hip Flexion Moment","data":{"name":"p11"},"layer":[
{"transform":[{"filter":"datum.s=='k'"}],"mark":{"type":"area","color":"#808080","opacity":0.5,"interpolate":"monotone","clip":true},"encoding":{"x":{"field":"x","type":"quantitative","scale":{"domain":[0,100],"nice":false,"zero":false},"axis":{"values":[0,50,100],"tickCount":12,"labelOverlap":false,"title":"Stance Phase (%)"}},"y":{"field":"lo","type":"quantitative","scale":{"domain":[-0.375,0.6],"nice":false,"zero":false},"axis":{"values":[-0.2,0,0.2,0.4,0.6],"tickCount":12,"labelOverlap":false,"labelExpr":"'' + datum.value","title":"Moment (Nm/kg)"}},"y2":{"field":"hi"}}},
{"transform":[{"filter":"datum.s=='k'"}],"mark":{"type":"line","color":"#000000","strokeWidth":2.5,"interpolate":"monotone","clip":true},"encoding":{"x":{"field":"x","type":"quantitative"},"y":{"field":"y","type":"quantitative"}}},
{"transform":[{"filter":"datum.s=='b'"}],"mark":{"type":"area","color":"#0000ff","opacity":0.33,"interpolate":"monotone","clip":true},"encoding":{"x":{"field":"x","type":"quantitative"},"y":{"field":"lo","type":"quantitative"},"y2":{"field":"hi"}}},
{"transform":[{"filter":"datum.s=='b'"}],"mark":{"type":"line","color":"#0000ff","strokeWidth":2.5,"interpolate":"monotone","clip":true},"encoding":{"x":{"field":"x","type":"quantitative"},"y":{"field":"y","type":"quantitative"}}},
{"transform":[{"filter":"datum.s=='r'"}],"mark":{"type":"area","color":"#ff0000","opacity":0.25,"interpolate":"monotone","clip":true},"encoding":{"x":{"field":"x","type":"quantitative"},"y":{"field":"lo","type":"quantitative"},"y2":{"field":"hi"}}},
{"transform":[{"filter":"datum.s=='r'"}],"mark":{"type":"line","color":"#ff0000","strokeWidth":3,"interpolate":"monotone","clip":true},"encoding":{"x":{"field":"x","type":"quantitative"},"y":{"field":"y","type":"quantitative"}}},
{"data":{"values":[{"lab":"B2"}]},"mark":{"type":"text"},"encoding":{"text":{"field":"lab"},"x":{"datum":-21.5,"type":"quantitative"},"y":{"datum":-0.609,"type":"quantitative"}}}
]},
{"width":144,"height":154,"title":{"text":"Amputated Hip Flexion Moment","offset":9},"data":{"name":"p12"},"layer":[
{"transform":[{"filter":"datum.s=='k'"}],"mark":{"type":"area","color":"#808080","opacity":0.5,"interpolate":"monotone","clip":true},"encoding":{"x":{"field":"x","type":"quantitative","scale":{"domain":[0,100],"nice":false,"zero":false},"axis":{"values":[0,50,100],"tickCount":12,"labelOverlap":false,"title":"Stance Phase (%)"}},"y":{"field":"lo","type":"quantitative","scale":{"domain":[-0.33,0.65],"nice":false,"zero":false},"axis":{"values":[-0.2,0,0.2,0.4,0.6],"tickCount":12,"labelOverlap":false,"labelExpr":"'' + datum.value","title":"Moment (Nm/kg)"}},"y2":{"field":"hi"}}},
{"transform":[{"filter":"datum.s=='k'"}],"mark":{"type":"line","color":"#000000","strokeWidth":2.5,"interpolate":"monotone","clip":true},"encoding":{"x":{"field":"x","type":"quantitative"},"y":{"field":"y","type":"quantitative"}}},
{"transform":[{"filter":"datum.s=='b'"}],"mark":{"type":"area","color":"#0000ff","opacity":0.33,"interpolate":"monotone","clip":true},"encoding":{"x":{"field":"x","type":"quantitative"},"y":{"field":"lo","type":"quantitative"},"y2":{"field":"hi"}}},
{"transform":[{"filter":"datum.s=='b'"}],"mark":{"type":"line","color":"#0000ff","strokeWidth":2.5,"interpolate":"monotone","clip":true},"encoding":{"x":{"field":"x","type":"quantitative"},"y":{"field":"y","type":"quantitative"}}},
{"transform":[{"filter":"datum.s=='r'"}],"mark":{"type":"area","color":"#ff0000","opacity":0.25,"interpolate":"monotone","clip":true},"encoding":{"x":{"field":"x","type":"quantitative"},"y":{"field":"lo","type":"quantitative"},"y2":{"field":"hi"}}},
{"transform":[{"filter":"datum.s=='r'"}],"mark":{"type":"line","color":"#ff0000","strokeWidth":3,"interpolate":"monotone","clip":true},"encoding":{"x":{"field":"x","type":"quantitative"},"y":{"field":"y","type":"quantitative"}}},
{"data":{"values":[{"lab":"B3"}]},"mark":{"type":"text"},"encoding":{"text":{"field":"lab"},"x":{"datum":-22.2,"type":"quantitative"},"y":{"datum":-0.591,"type":"quantitative"}}}
]}
]}
]
}
